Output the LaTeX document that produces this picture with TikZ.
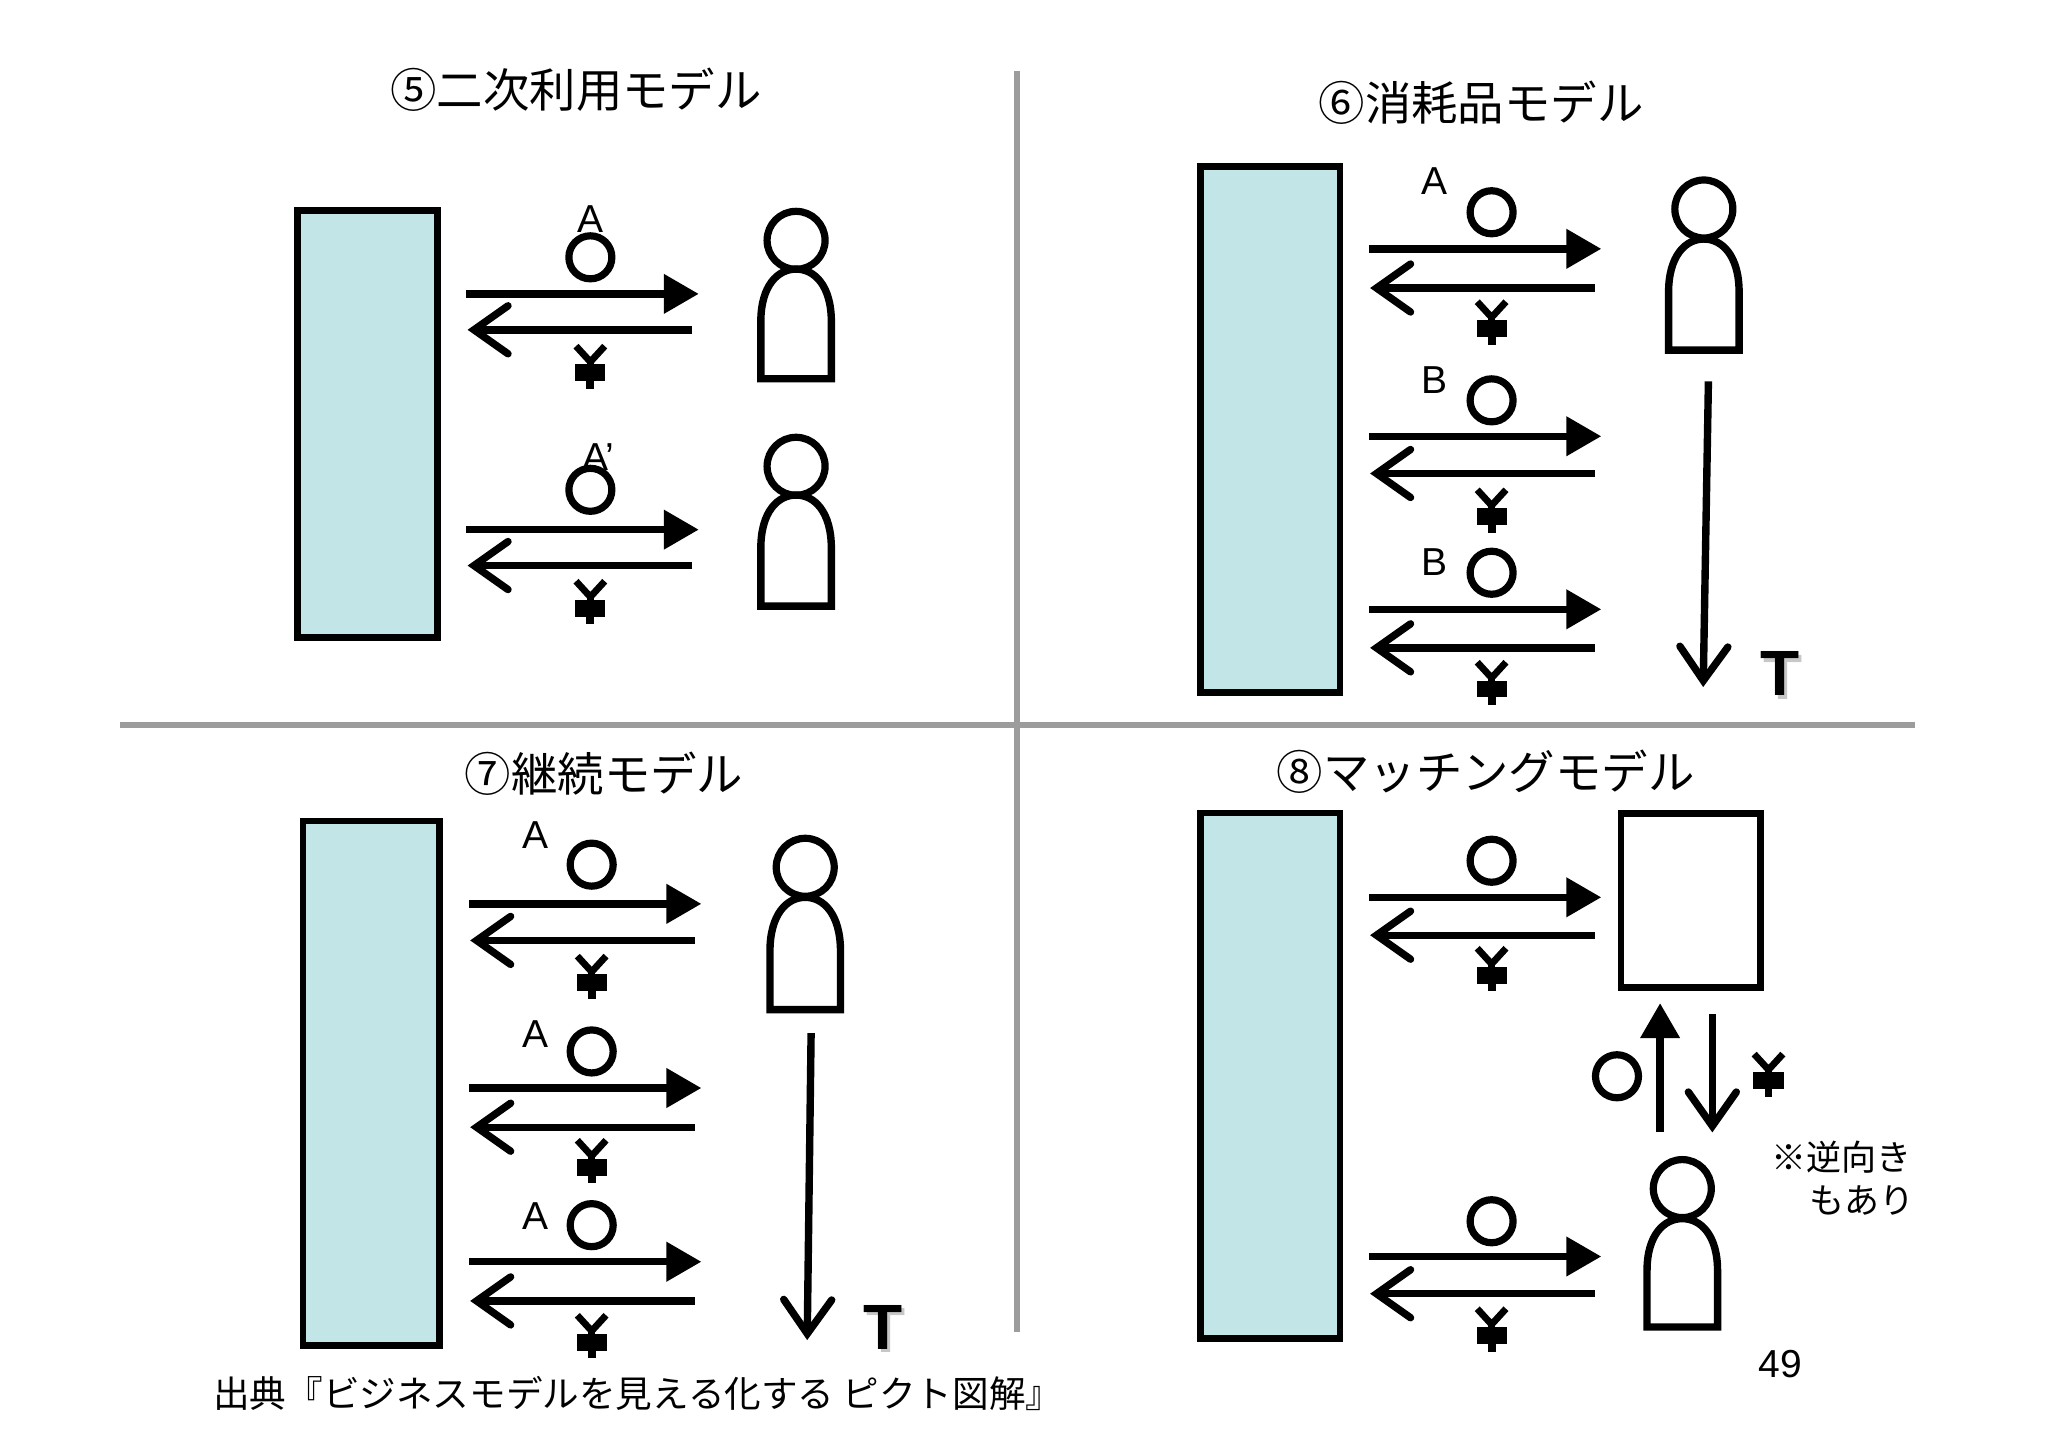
\documentclass[tikz,border=0pt]{standalone}
\usepackage{fontspec}
\setmainfont{Liberation Sans}
\newfontfamily\jpf{Noto Sans CJK JP}
\usetikzlibrary{arrows.meta,calc,shadows}
\definecolor{panelblue}{HTML}{C2E5E7}
\definecolor{rulegray}{HTML}{9C9C9C}
\tikzset{
  x=0.653pt,y=-0.653pt,
  ink/.style={line width=3.7pt,black},
  bigbox/.style={draw=black,line width=3.4pt,fill=panelblue,sharp corners},
  goods/.style={ink,-{Triangle[length=17.5pt,width=19pt]},shorten >=0pt},
  money/.style={ink,-{Straight Barb[length=17pt,width=24pt,line cap=round]}},
  head/.style={circle,draw=black,line width=3.6pt,inner sep=0pt,outer sep=0pt,fill=white,minimum size=29pt},
  token/.style={circle,draw=black,line width=3.6pt,inner sep=0pt,outer sep=0pt,minimum size=21.5pt},
  title/.style={font=\jpf\fontsize{23.2}{23.2}\selectfont,inner sep=0pt,text=black},
  small/.style={font=\fontsize{19.5}{19.5}\selectfont,inner sep=0pt,text=black},
  note/.style={font=\jpf\fontsize{17.5}{17.5}\selectfont,inner sep=0pt,text=black},
  source/.style={font=\jpf\fontsize{18.3}{18.3}\selectfont,inner sep=0pt,text=black},
  rulel/.style={line width=2.7pt,rulegray},
}
% box: name, x1, y1, x2, y2
\newcommand{\bx}[6][bigbox]{\path[#1] (#3,#4) rectangle (#5,#6);\coordinate (#2) at (#3,#4);}
% yen sign centred on x,y
\newcommand{\yen}[2]{%
  \fill[black] (#1-11.5,#2-1) rectangle (#1+11.5,#2+12);
  \fill[black] (#1-3,#2) rectangle (#1+3,#2+18);
  \draw[line width=3.4pt,miter limit=10] (#1-11,#2-15) -- (#1,#2-3) -- (#1+11,#2-15);
  \draw[line width=3.4pt] (#1,#2-3) -- (#1,#2+2);
}
% exchange row: name, x-left, y-top arrow, y-return arrow, x-token, y-token, y-yen
\newcommand{\row}[7]{%
  \coordinate (#1gs) at (#2,#3); \coordinate (#1ge) at (#2+178,#3);
  \coordinate (#1ms) at (#2+173,#4); \coordinate (#1me) at (#2+1,#4);
  \draw[goods] (#1gs) -- (#1ge);
  \draw[money] (#1ms) -- (#1me);
  \node[token] (#1t) at (#5,#6) {};
  \yen{#5}{#7}
}
% person: name, cx, head cy, body top, body bottom
\newcommand{\person}[5]{%
  \draw[line width=3.7pt,fill=white] (#2-27,#5) -- (#2-27,{#4+(#5-#4)*0.48})
     .. controls (#2-27,{#4+(#5-#4)*0.15}) and (#2-14,#4) .. (#2,#4)
     .. controls (#2+14,#4) and (#2+27,{#4+(#5-#4)*0.15}) .. (#2+27,{#4+(#5-#4)*0.48})
     -- (#2+27,#5) -- cycle;
  \node[head,fill=none] (#1) at (#2,#3) {};
}
\newcommand{\teemark}[3]{%
  \node[inner sep=0pt,font=\bfseries\fontsize{32}{32}\selectfont,text=black!22] at (#2+2,#3+3) {T};
  \node[inner sep=0pt,font=\bfseries\fontsize{32}{32}\selectfont] (#1) at (#2,#3) {T};
}
\begin{document}
\begin{tikzpicture}
\useasboundingbox (0,0) rectangle (1568,1108.7);
% rules
\coordinate (vt) at (778.5,54); \coordinate (vb) at (778.5,1020);
\coordinate (hl) at (92,555); \coordinate (hr) at (1466,555);
\draw[rulel] (vt) -- (vb);
\draw[rulel] (hl) -- (hr);
% titles
\node[title] (t5) at (441,69) {⑤二次利用モデル};
\node[title] (t6) at (1134,79) {⑥消耗品モデル};
\node[title] (t7) at (462.5,592) {⑦継続モデル};
\node[title] (t8) at (1137.5,591) {⑧マッチングモデル};
% panel 5
\bx{b5}{228}{161}{335}{488}
\node[small] (l5a) at (452,168) {A};
\node[small] (l5b) at (458,350) {A’};
\row{p5a}{357}{225}{252.5}{452}{197}{280}
\row{p5b}{357}{405.5}{433}{452}{375}{460}
\person{h5a}{609.5}{184}{206}{290}
\person{h5b}{609.5}{357}{379}{464}
% panel 6
\bx{b6}{919}{127.5}{1026}{530}
\row{p6a}{1048}{190.5}{220.5}{1142}{162.5}{246}
\row{p6b}{1048}{334}{362.5}{1142}{306.5}{390}
\row{p6c}{1048}{466.5}{496}{1142}{438.5}{522}
\node[small] (l6a) at (1098,139) {A};
\node[small] (l6b) at (1098,291) {B};
\node[small] (l6c) at (1098,430) {B};
\person{h6}{1304.5}{160}{183}{268}
\coordinate (d6s) at (1308,292); \coordinate (d6e) at (1304,526);
\draw[money] (d6s) -- (d6e);
\teemark{tt6}{1363}{516}
% panel 7
\bx{b7}{232}{628.5}{336.5}{1030}
\row{p7a}{359}{692}{720}{453}{662}{747}
\row{p7b}{359}{833}{863}{453}{805}{888}
\row{p7c}{359}{966}{996}{453}{938}{1022}
\node[small] (l7a) at (410,639) {A};
\node[small] (l7b) at (410,792) {A};
\node[small] (l7c) at (410,931) {A};
\person{h7}{616.5}{664}{687}{773}
\coordinate (d7s) at (621,791); \coordinate (d7e) at (618,1026);
\draw[money] (d7s) -- (d7e);
\teemark{tt7}{676}{1016}
% panel 8
\bx{b8}{919}{622.5}{1026}{1025}
\path[draw=black,line width=3.4pt,fill=white] (1241,623) rectangle (1348,756);
\row{p8a}{1048}{687}{716}{1142}{659}{741}
\row{p8b}{1048}{962}{990.5}{1142}{935}{1017}
\coordinate (u8s) at (1271,867); \coordinate (u8e) at (1271,768);
\coordinate (w8s) at (1311,776); \coordinate (w8e) at (1311,867);
\draw[goods] (u8s) -- (u8e);
\draw[money] (w8s) -- (w8e);
\node[token] (t8t) at (1238,824) {};
\yen{1354}{822}
\person{h8}{1288}{910}{933}{1016}
\node[note,anchor=west] (n8a) at (1356,886) {※逆向き};
\node[note,anchor=west] (n8b) at (1385,919) {もあり};
\node[small] (pg) at (1363,1044) {49};
\node[source,anchor=west] (src) at (163,1067) {出典『ビジネスモデルを見える化する ピクト図解』};
\end{tikzpicture}
\end{document}
